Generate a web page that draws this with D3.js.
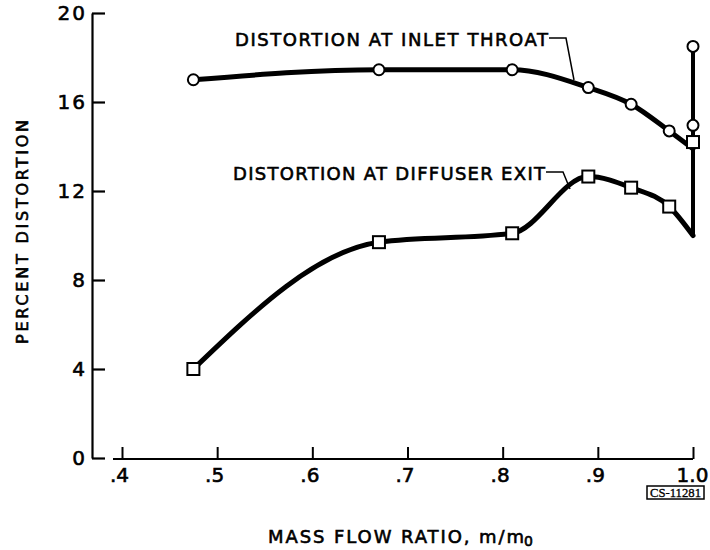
<!DOCTYPE html>
<html>
<head>
<meta charset="utf-8">
<script src="https://cdn.jsdelivr.net/npm/d3@7"></script>
<style>
  body { margin: 0; background: #fff; }
  svg { display: block; }
</style>
</head>
<body>
<svg id="chart" width="710" height="550"></svg>
<script>
// axis ticks
const xTicks = [0.4, 0.5, 0.6, 0.7, 0.8, 0.9, 1.0];
const xTickLabels = [".4", ".5", ".6", ".7", ".8", ".9", "1.0"];
const yTicks = [0, 4, 8, 12, 16, 20];

// distortion at inlet throat (circles)
const throatX = [0.475, 0.67, 0.81, 0.89, 0.935, 0.975, 1.0, 1.0];
const throatY = [17.0, 17.45, 17.45, 16.65, 15.9, 14.7, 14.95, 18.5];
// faired curve, ends at the foot of the vertical at m/m0 = 1
const throatCurveX = [0.475, 0.67, 0.81, 0.89, 0.935, 0.975, 1.0];
const throatCurveY = [17.0, 17.45, 17.45, 16.65, 15.9, 14.7, 13.9];
const throatVertY = [13.9, 18.5];

// distortion at diffuser exit (squares)
const exitX = [0.475, 0.67, 0.81, 0.89, 0.935, 0.975, 1.0];
const exitY = [4.0, 9.7, 10.1, 12.65, 12.15, 11.3, 14.2];
const exitCurveX = [0.475, 0.67, 0.81, 0.89, 0.935, 0.975, 1.0];
const exitCurveY = [4.0, 9.7, 10.1, 12.65, 12.15, 11.3, 10.0];
const exitVertY = [10.0, 14.2];

const FONT = "'DejaVu Sans', Arial, sans-serif";

const svg = d3.select("#chart");

const x = d3.scaleLinear().domain([0.4, 1.0]).range([122, 693]);
const y = d3.scaleLinear().domain([0, 20]).range([458, 13]);

// hand-lettered look: thicken the glyphs a little
const letter = (sel, size) =>
  sel
    .style("font-family", FONT)
    .style("font-size", size + "px")
    .attr("fill", "#000")
    .attr("stroke", "#000")
    .attr("stroke-width", 0.6);

// y axis, ticks pointing into the plot
const yAxis = svg
  .append("g")
  .attr("transform", `translate(${x(0.4) - 30}, 0)`)
  .call(
    d3.axisLeft(y).tickValues(yTicks).tickSizeInner(-13).tickSizeOuter(0).tickPadding(5)
  );
yAxis.select(".domain").attr("stroke", "#000").attr("stroke-width", 2.2);
yAxis.selectAll(".tick line").attr("stroke", "#000").attr("stroke-width", 2.2);
letter(yAxis.selectAll(".tick text"), 20).style("letter-spacing", "2px");

// x axis, ticks pointing up, separate from the y axis
const xAxis = svg
  .append("g")
  .attr("transform", `translate(0, ${y(0) + 1})`)
  .call(
    d3.axisBottom(x)
      .tickValues(xTicks)
      .tickFormat((d, i) => xTickLabels[i])
      .tickSizeInner(-12)
      .tickSizeOuter(0)
      .tickPadding(9)
  );
xAxis.select(".domain").remove();
xAxis
  .append("line")
  .attr("x1", x(0.4) - 9)
  .attr("x2", x(1.0))
  .attr("stroke", "#000")
  .attr("stroke-width", 2.2);
xAxis.selectAll(".tick line").attr("stroke", "#000").attr("stroke-width", 2);
letter(xAxis.selectAll(".tick text"), 20).attr("dx", (d, i) =>
  i == xTicks.length - 1 ? -1 : -3
);

// curves
const curve = d3
  .line()
  .x((d) => x(d[0]))
  .y((d) => y(d[1]))
  .curve(d3.curveMonotoneX);
const straight = d3
  .line()
  .x((d) => x(d[0]))
  .y((d) => y(d[1]));

const lines = svg.append("g").attr("class", "curves");
const drawCurve = (pts, gen, w = 5) =>
  lines
    .append("path")
    .attr("d", gen(pts))
    .attr("fill", "none")
    .attr("stroke", "#000")
    .attr("stroke-width", w)
    .attr("stroke-linejoin", "round")
    .attr("stroke-linecap", "round");

drawCurve(d3.zip(throatCurveX, throatCurveY), curve);
drawCurve(throatVertY.map((v) => [1.0, v]), straight, 4);
drawCurve(d3.zip(exitCurveX, exitCurveY), curve);
drawCurve(exitVertY.map((v) => [1.0, v]), straight, 4);

// markers
const marks = svg.append("g").attr("class", "markers");
marks
  .selectAll("circle")
  .data(d3.zip(throatX, throatY))
  .join("circle")
  .attr("cx", (d) => x(d[0]))
  .attr("cy", (d) => y(d[1]))
  .attr("r", 5.5)
  .attr("fill", "#fff")
  .attr("stroke", "#000")
  .attr("stroke-width", 2);
const SQ = 12;
marks
  .selectAll("rect")
  .data(d3.zip(exitX, exitY))
  .join("rect")
  .attr("x", (d) => x(d[0]) - SQ / 2)
  .attr("y", (d) => y(d[1]) - SQ / 2)
  .attr("width", SQ)
  .attr("height", SQ)
  .attr("fill", "#fff")
  .attr("stroke", "#000")
  .attr("stroke-width", 2);

// curve labels with leader lines
const notes = svg.append("g").attr("class", "notes");
letter(
  notes
    .append("text")
    .attr("x", 235)
    .attr("y", 46)
    .attr("textLength", 313)
    .attr("lengthAdjust", "spacing")
    .text("DISTORTION AT INLET THROAT"),
  18
);
notes
  .append("path")
  .attr("d", "M549,38 L566,38 L574,80")
  .attr("fill", "none")
  .attr("stroke", "#000")
  .attr("stroke-width", 1.5);

letter(
  notes
    .append("text")
    .attr("x", 233)
    .attr("y", 180)
    .attr("textLength", 312)
    .attr("lengthAdjust", "spacing")
    .text("DISTORTION AT DIFFUSER EXIT"),
  18
);
notes
  .append("path")
  .attr("d", "M546,172 L563,172 L570,189")
  .attr("fill", "none")
  .attr("stroke", "#000")
  .attr("stroke-width", 1.5);

// axis titles
letter(
  svg
    .append("text")
    .attr("transform", "translate(28, 232) rotate(-90)")
    .attr("text-anchor", "middle")
    .attr("textLength", 224)
    .attr("lengthAdjust", "spacing")
    .text("PERCENT DISTORTION"),
  16
);

const xTitle = letter(
  svg.append("text").attr("x", 268).attr("y", 543),
  18
);
xTitle
  .append("tspan")
  .attr("textLength", 256)
  .attr("lengthAdjust", "spacing")
  .text("MASS FLOW RATIO, m/m");
xTitle.append("tspan").attr("dx", -2).attr("dy", 3).style("font-size", "14px").text("0");

// report number stamp
svg
  .append("rect")
  .attr("x", 647)
  .attr("y", 486)
  .attr("width", 57)
  .attr("height", 13)
  .attr("fill", "none")
  .attr("stroke", "#000")
  .attr("stroke-width", 1.5);
svg
  .append("text")
  .attr("x", 650)
  .attr("y", 497)
  .attr("textLength", 51)
  .attr("lengthAdjust", "spacingAndGlyphs")
  .style("font-family", "'Liberation Serif', serif")
  .style("font-size", "12px")
  .attr("stroke", "#000")
  .attr("stroke-width", 0.3)
  .text("CS-11281");
</script>
</body>
</html>
